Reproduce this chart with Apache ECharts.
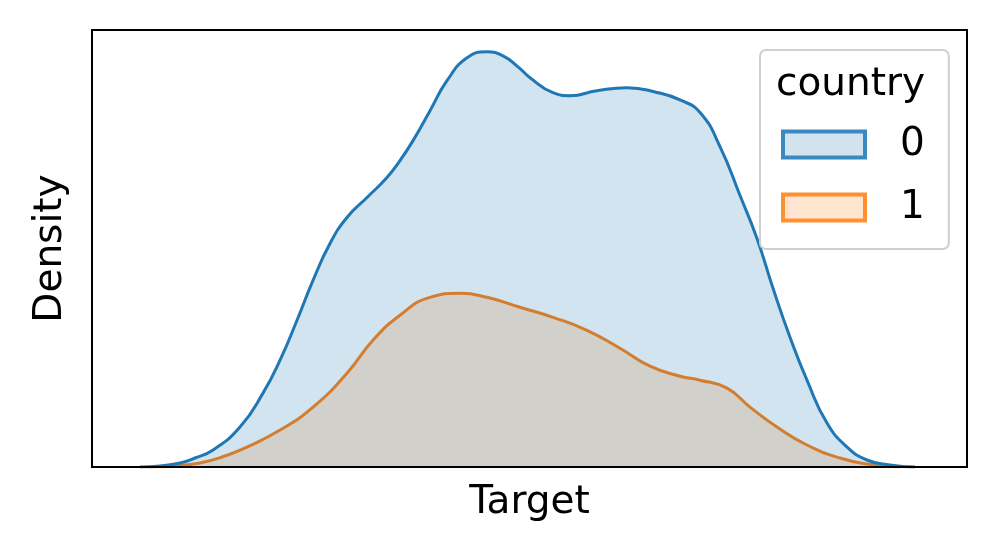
<!DOCTYPE html>
<html>
<head>
    <meta charset="utf-8">
    <script src="https://cdn.jsdelivr.net/npm/echarts@6/dist/echarts.min.js"></script>
</head>
<body style="margin:0">
    <div id="main" style="width: 997px; height: 554px"></div>
    <script type="text/javascript">
        // kde curves, [target, density]
        var country0 = [
            [5.49, 0], [7.77, 0.0024], [10.06, 0.0096], [11.77, 0.0216], [13.83, 0.0408],
            [16.91, 0.0959], [19.54, 0.1775], [21.49, 0.2566], [23.43, 0.3525], [25.26, 0.4484],
            [27.20, 0.5372], [29.14, 0.5995], [31.43, 0.6475], [33.71, 0.6954], [35.20, 0.7362],
            [36.69, 0.7842], [38.63, 0.8561], [40.57, 0.9281], [42.86, 0.9832], [45.14, 0.9976],
            [46.97, 0.9880], [48.69, 0.9616], [50.06, 0.9353], [52.69, 0.8993], [54.63, 0.8921],
            [57.71, 0.9041], [61.14, 0.9113], [64.57, 0.9000], [67.20, 0.8820], [69.49, 0.8520],
            [71.77, 0.7700], [74.06, 0.6523], [76.00, 0.5492], [77.83, 0.4293], [79.77, 0.3118],
            [81.71, 0.2086], [84.00, 0.1055], [86.29, 0.0480], [88.57, 0.0168], [91.20, 0.0048],
            [94.06, 0]
        ];
        var country1 = [
            [6.63, 0], [9.49, 0.0024], [12.34, 0.0096], [14.86, 0.0240], [17.71, 0.0480],
            [21.49, 0.0887], [25.26, 0.1439], [29.14, 0.2254], [32.11, 0.3046], [35.20, 0.3645],
            [38.63, 0.4077], [42.06, 0.4173], [45.14, 0.4077], [48.91, 0.3837], [52.69, 0.3597],
            [56.57, 0.3285], [60.34, 0.2854], [63.77, 0.2422], [67.20, 0.2182], [69.49, 0.2086],
            [72.57, 0.1894], [75.20, 0.1439], [78.29, 0.0959], [81.71, 0.0528], [85.49, 0.0216],
            [88.57, 0.0072], [92.34, 0]
        ];
        var hueNames = ['0', '1'];

        var font = 'DejaVu Sans';
        var fs = 39;
        var myChart = echarts.init(document.getElementById('main'));

        var option = {
            animation: false,
            title: {
                text: 'country',
                left: 776,
                top: 65,
                padding: 0,
                textStyle: { fontFamily: font, fontSize: fs, fontWeight: 'normal', color: '#000' }
            },
            legend: {
                orient: 'vertical',
                left: 760,
                top: 50,
                padding: [75, 24, 22, 21],
                itemGap: 24,
                itemWidth: 82,
                itemHeight: 26,
                icon: 'rect',
                backgroundColor: 'rgba(255,255,255,0.8)',
                borderColor: '#cfcfcf',
                borderWidth: 2,
                borderRadius: 6,
                textStyle: { fontFamily: font, fontSize: fs, color: '#000', lineHeight: 30, padding: [0, 0, 0, 30] },
                data: [
                    { name: hueNames[0], itemStyle: { color: '#d2e3ef', borderColor: '#3a89c1', borderWidth: 4 } },
                    { name: hueNames[1], itemStyle: { color: '#ffe5d0', borderColor: '#ff9030', borderWidth: 4 } }
                ]
            },
            grid: {
                left: 92,
                right: 30,
                top: 30,
                bottom: 87,
                show: true,
                borderColor: '#000',
                borderWidth: 2,
                outerBoundsMode: 'none'
            },
            xAxis: {
                type: 'value',
                min: 0,
                max: 100,
                z: 5,
                name: 'Target',
                nameLocation: 'middle',
                nameGap: 16,
                nameTextStyle: { fontFamily: font, fontSize: fs, color: '#000' },
                axisLine: { show: true, lineStyle: { color: '#000', width: 2 } },
                axisTick: { show: false },
                axisLabel: { show: false },
                splitLine: { show: false }
            },
            yAxis: {
                type: 'value',
                min: 0,
                max: 1.05,
                name: 'Density',
                nameLocation: 'middle',
                nameGap: 22,
                nameTextStyle: { fontFamily: font, fontSize: fs, color: '#000' },
                axisLine: { show: false },
                axisTick: { show: false },
                axisLabel: { show: false },
                splitLine: { show: false }
            },
            series: [
                {
                    name: hueNames[1],
                    type: 'line',
                    data: country1,
                    smooth: 0.5,
                    symbol: 'none',
                    z: 2,
                    lineStyle: { color: '#ff7f0e', width: 3 },
                    itemStyle: { color: '#ff7f0e' },
                    areaStyle: { color: '#ff7f0e', opacity: 0.2 },
                    emphasis: { disabled: true }
                },
                {
                    name: hueNames[0],
                    type: 'line',
                    data: country0,
                    smooth: 0.5,
                    symbol: 'none',
                    z: 3,
                    lineStyle: { color: '#1f77b4', width: 3 },
                    itemStyle: { color: '#1f77b4' },
                    areaStyle: { color: '#1f77b4', opacity: 0.2 },
                    emphasis: { disabled: true }
                }
            ]
        };
        myChart.setOption(option);
    </script>
</body>
</html>
